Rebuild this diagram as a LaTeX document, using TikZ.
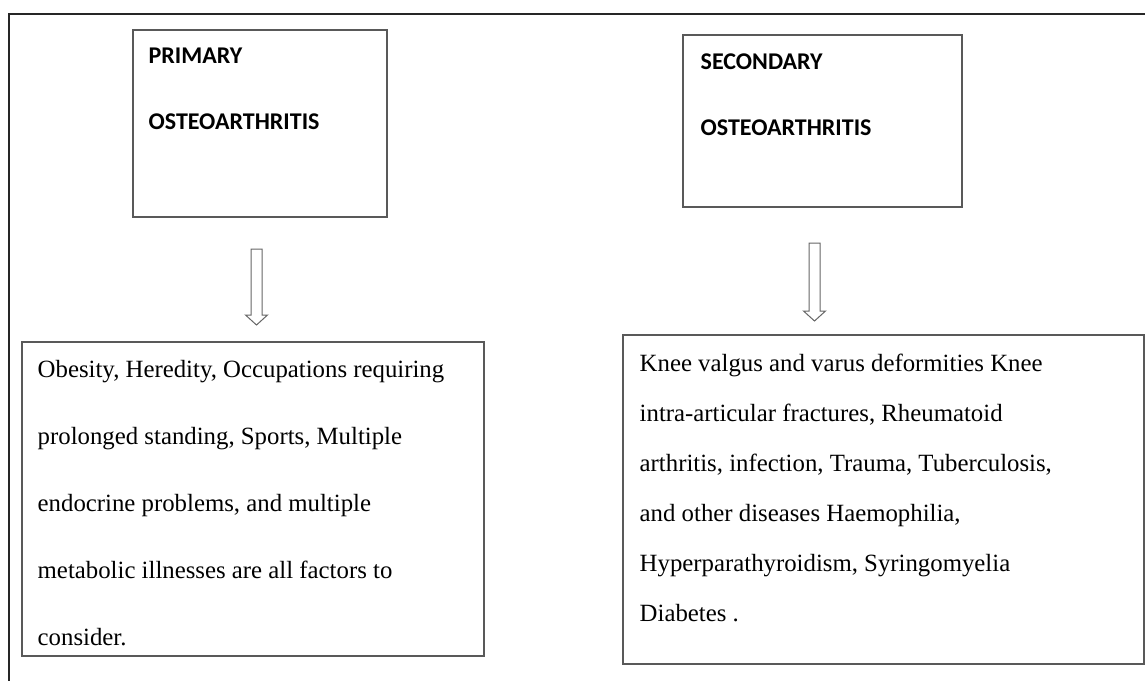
\documentclass[tikz,border=0pt]{standalone}
\usepackage{fontspec}
\setmainfont{Liberation Serif}
\newfontfamily\headfont{Carlito}
\usetikzlibrary{calc,positioning}
\tikzset{
  every picture/.style={line width=0.7pt},
  oframe/.style={draw=black!85, line width=0.8pt},
  catbox/.style={draw=black!65, line width=1pt, inner sep=0pt, anchor=north west},
  cathead/.style={font=\headfont\bfseries\fontsize{12}{33}\selectfont,
                  align=left, inner sep=0pt, anchor=north west},
  causetxt/.style={font=\fontsize{12.4}{33.5}\selectfont,
                   align=left, inner sep=0pt, anchor=north west},
  barrow/.style={draw=black!60, line width=0.5pt, fill=white},
}
% hollow block arrow from #1 (top) to #2 (tip)
\newcommand{\blockarrow}[2]{%
  \draw[barrow] ($(#1)+(-2.75,0)$) -- ($(#2)+(-2.75,-5)$) -- ($(#2)+(-5.5,-5)$)
    -- (#2) -- ($(#2)+(5.5,-5)$) -- ($(#2)+(2.75,-5)$) -- ($(#1)+(2.75,0)$) -- cycle;}

\begin{document}
\begin{tikzpicture}[x=1pt, y=-1pt]
  \useasboundingbox (0,0) rectangle (572.5,340);
  \clip (0,0) rectangle (572.5,340);
  \draw[oframe] (4.5,350) |- (580,7);
  % category boxes
  \node[catbox, minimum width=127pt, minimum height=93.5pt] (prim) at (66,14.5) {};
  \node[catbox, minimum width=139.5pt, minimum height=86pt] (sec) at (341,17) {};
  \node[cathead] (primtxt) at (74,23.5) {PRIMARY\\OSTEOARTHRITIS};
  \node[cathead] (sectxt) at (350,26.5) {SECONDARY\\OSTEOARTHRITIS};
  % arrows
  \coordinate (a1top) at (128.25,124.5);
  \coordinate (a1tip) at (128.25,162.5);
  \coordinate (a2top) at (407.25,121.5);
  \coordinate (a2tip) at (407.25,160.5);
  \blockarrow{a1top}{a1tip}
  \blockarrow{a2top}{a2tip}
  % cause boxes
  \node[catbox, minimum width=231pt, minimum height=157pt] (primcause) at (10.5,170.5) {};
  \node[catbox, minimum width=260.5pt, minimum height=164.5pt] (seccause) at (311,167) {};
  \node[causetxt] (primlist) at (18.5,180) {Obesity, Heredity, Occupations requiring\\
    prolonged standing, Sports, Multiple\\
    endocrine problems, and multiple\\
    metabolic illnesses are all factors to\\
    consider.};
  \node[causetxt, font=\fontsize{12.4}{25}\selectfont] (seclist) at (319.5,176.5)
    {Knee valgus and varus deformities Knee\\
    intra-articular fractures, Rheumatoid\\
    arthritis, infection, Trauma, Tuberculosis,\\
    and other diseases Haemophilia,\\
    Hyperparathyroidism, Syringomyelia\\
    Diabetes .};
\end{tikzpicture}
\end{document}
